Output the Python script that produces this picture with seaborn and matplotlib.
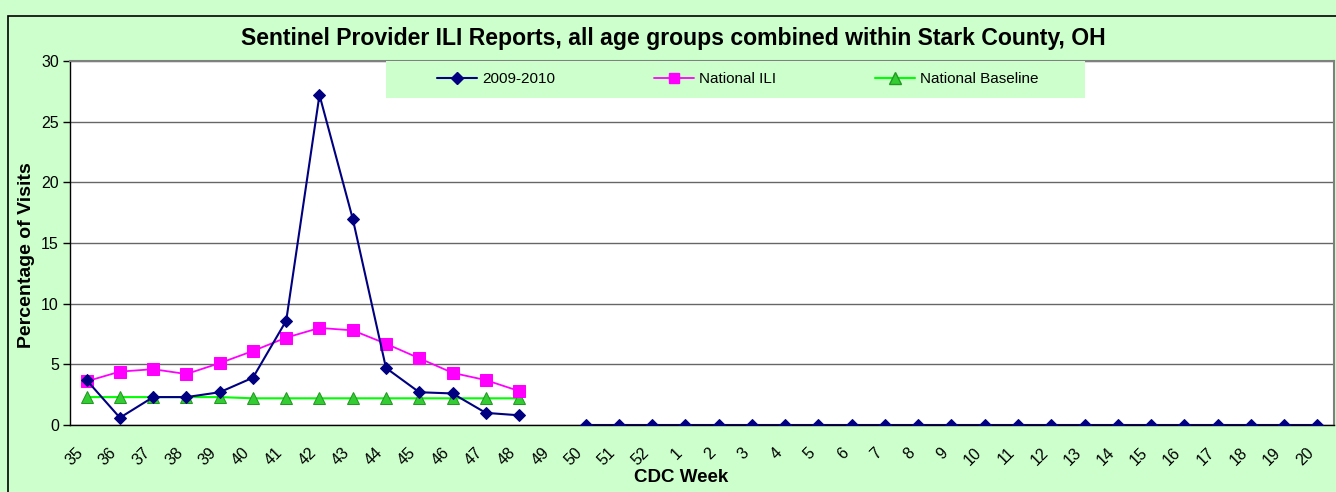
import numpy as np
import pandas as pd
import matplotlib
matplotlib.use("Agg")
import matplotlib.pyplot as plt
import matplotlib.transforms as mtransforms
from matplotlib.lines import Line2D
from matplotlib.patches import Rectangle
import seaborn as sns

weeks = [str(w) for w in list(range(35, 53)) + list(range(1, 21))]
season_2009 = [3.7, 0.6, 2.3, 2.3, 2.7, 3.9, 8.6, 27.2, 17.0, 4.7, 2.7, 2.6, 1.0, 0.8,
               np.nan] + [0.0] * 23
national_ili = [3.6, 4.4, 4.6, 4.2, 5.1, 6.1, 7.2, 8.0, 7.8, 6.7, 5.5, 4.3, 3.7, 2.8] + [np.nan] * 24
national_base = [2.3, 2.3, 2.3, 2.3, 2.3, 2.2, 2.2, 2.2, 2.2, 2.2, 2.2, 2.2, 2.2, 2.2] + [np.nan] * 24

sns.set_theme(style="white")
plt.rcParams['font.family'] = ['Liberation Sans', 'DejaVu Sans']
for k in ['text.color', 'axes.labelcolor', 'xtick.color', 'ytick.color']:
    plt.rcParams[k] = 'black'

fig = plt.figure(figsize=(13.36, 4.92), dpi=100)
fig.patch.set_facecolor('#CCFFCC')
W, H = 1336, 492
AX_L, AX_R, AX_T, AX_B = 70, 1334, 61, 425
ax = fig.add_axes([AX_L / W, 1 - AX_B / H, (AX_R - AX_L) / W, (AX_B - AX_T) / H])
ax.set_facecolor('white')

x = np.arange(len(weeks))

def segments(vals):
    out, s = [], 0
    prev_nan = True
    for v in vals:
        if np.isnan(v):
            prev_nan = True
            out.append(np.nan)
        else:
            if prev_nan:
                s += 1
            prev_nan = False
            out.append(s)
    return out

df1 = pd.DataFrame({'x': x, 'y': season_2009, 'seg': segments(season_2009)}).dropna()
df2 = pd.DataFrame({'x': x, 'y': national_ili}).dropna()
df3 = pd.DataFrame({'x': x, 'y': national_base}).dropna()

sns.lineplot(data=df3, x='x', y='y', ax=ax, color='#00FF00', lw=1.5, marker='^',
             markersize=9, markerfacecolor='#33CC33', markeredgecolor='#229922', zorder=3)
sns.lineplot(data=df2, x='x', y='y', ax=ax, color='#FF00FF', lw=1.3, marker='s',
             markersize=8, markerfacecolor='#FF00FF', markeredgecolor='#FF00FF', zorder=4)
sns.lineplot(data=df1, x='x', y='y', units='seg', estimator=None, ax=ax, color='#000080',
             lw=1.5, marker='D', markersize=6.5, markerfacecolor='#000080',
             markeredgecolor='#000080', zorder=5)

ax.set_xlim(-0.5, len(weeks) - 0.5)
ax.set_ylim(0, 30)
ax.set_yticks(range(0, 31, 5))
ax.set_yticklabels([str(v) for v in range(0, 31, 5)], fontsize=11.5)
ax.yaxis.grid(True, color='#666666', lw=1)
ax.set_axisbelow(True)

ax.set_xticks(x)
ax.set_xticklabels(weeks, rotation=45, ha='right', rotation_mode='anchor', fontsize=11.5)
ax.set_xticks(np.arange(-0.5, len(weeks)), minor=True)
ax.tick_params(axis='x', which='major', length=0, pad=14.5)
ax.tick_params(axis='x', which='minor', length=5, width=1, color='black', direction='out')
ax.tick_params(axis='y', length=5, width=1, color='black', direction='out', left=True, pad=3)

for side in ['left', 'bottom']:
    ax.spines[side].set_color('black')
    ax.spines[side].set_linewidth(1)
ax.spines['top'].set_color('#808080')
ax.spines['right'].set_color('#808080')
ax.spines['top'].set_linewidth(1.5)
ax.spines['right'].set_linewidth(1.5)

ax.set_xlabel('CDC Week', fontsize=13.5, fontweight='bold', va='baseline')
ax.xaxis.set_label_coords((681 - AX_L) / (AX_R - AX_L), (AX_B - 482) / (AX_B - AX_T))
ax.set_ylabel('Percentage of Visits', fontsize=14, fontweight='bold', va='center')
ax.yaxis.set_label_coords((26.5 - AX_L) / (AX_R - AX_L), (AX_B - 255) / (AX_B - AX_T))

fig.text(673 / W, 1 - 45 / H, 'Sentinel Provider ILI Reports, all age groups combined within Stark County, OH',
         ha='center', va='baseline', fontsize=16.6, fontweight='bold')

# legend background box
fig.patches.append(Rectangle((386 / W, 1 - 98 / H), 699 / W, 37 / H, transform=fig.transFigure,
                             facecolor='#CCFFCC', edgecolor='none', zorder=10))
handles = [
    Line2D([], [], color='#000080', lw=1.5, marker='D', markersize=6.5),
    Line2D([], [], color='#FF00FF', lw=1.3, marker='s', markersize=7),
    Line2D([], [], color='#00FF00', lw=1.5, marker='^', markersize=8,
           markerfacecolor='#33CC33', markeredgecolor='#229922'),
]
leg = fig.legend(handles, ['2009-2010', 'National ILI', 'National Baseline'],
                 loc='center left', bbox_to_anchor=(437 / W, 1 - 79 / H), ncol=3, frameon=False,
                 fontsize=11, columnspacing=6.5, handlelength=2.6, handletextpad=0.33,
                 borderaxespad=0, borderpad=0)
leg.set_zorder(11)

fig.patches.append(Rectangle((8 / W, -0.1), 1.2, 1 - 16 / H + 0.1, transform=fig.transFigure,
                             facecolor='none', edgecolor='black', lw=1.2, zorder=0))

# shift rotated tick labels left (applied after tick_params so it is not reset)
shift = mtransforms.ScaledTranslation(-11 / 100, 0, fig.dpi_scale_trans)
for t in ax.xaxis.get_major_ticks():
    t.label1.set_transform(t.label1.get_transform() + shift)

fig.savefig('out.png', dpi=100, facecolor=fig.get_facecolor())
